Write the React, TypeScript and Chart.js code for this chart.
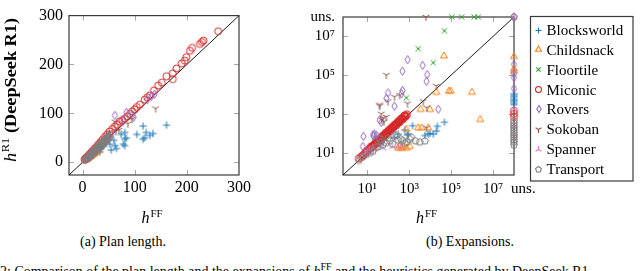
import { useEffect, useRef } from 'react';
import { Chart, registerables } from 'chart.js';
Chart.register(...registerables);

type Pair = [number, number];

const UNS = 1e8; // "unsolved" plotted at the top/right border of the expansions plot

const domains = ['Blocksworld', 'Childsnack', 'Floortile', 'Miconic', 'Rovers', 'Sokoban', 'Spanner', 'Transport'];
const domainColors = ['#1f77b4', '#ff7f0e', '#2ca02c', '#d62728', '#9467bd', '#8c564b', '#e377c2', '#7f7f7f'];
const domainMarks = ['plus', 'triangle', 'x', 'circle', 'diamond', 'ydown', 'yup', 'pentagon'];

const lengthTicks = [0, 100, 200, 300];
const lengthTickLabels = ['0', '100', '200', '300'];
const expansionTicks = [10, 1e3, 1e5, 1e7, UNS];
const expansionTickLabelsX = ['10¹', '10³', '10⁵', '10⁷', '\u00a0\u00a0\u00a0\u00a0\u00a0uns.'];
const expansionTickLabelsY = ['10¹', '10³', '10⁵', '10⁷', 'uns.'];

// ---------- (a) plan length: [h^FF, h^R1] ----------
const blocksworldLength: Pair[] = [[161, 76], [116, 74], [104, 57], [122, 61], [135, 59], [119, 50], [129, 55], [116, 47], [81, 61], [84, 50], [78, 37], [65, 28], [52, 37], [55, 25], [33, 28], [74, 57], [81, 47], [81, 34], [62, 34], [33, 21], [45, 40], [40, 32], [30, 24], [25, 20], [20, 16], [15, 13], [10, 9], [36, 30], [60, 45], [28, 22]];
const childsnackLength: Pair[] = [[6, 5], [8, 6], [10, 8], [12, 9], [14, 11], [16, 13], [18, 14], [20, 16], [22, 17], [25, 20], [28, 22], [30, 24]];
const floortileLength: Pair[] = [[49, 59], [45, 52], [40, 45], [35, 40], [30, 34], [25, 28], [20, 23]];
const miconicLength: Pair[] = [[260, 268], [232, 249], [229, 246], [225, 242], [210, 234], [206, 228], [199, 215], [196, 208], [190, 202], [180, 192], [173, 182], [173, 170], [161, 176], [152, 163], [145, 157], [137, 147], [129, 137], [124, 133], [119, 128], [110, 118], [104, 113], [100, 108], [95, 104], [91, 99], [86, 94], [81, 89], [76, 86], [71, 83], [66, 77], [62, 73], [57, 68], [52, 63], [47, 57], [43, 52], [38, 46], [34, 41], [30, 36], [26, 31], [22, 27], [18, 22], [15, 18], [12, 15], [9, 11], [7, 9], [5, 7], [4, 5]];
const roversLength: Pair[] = [[62, 96], [84, 102], [98, 92], [124, 128], [138, 139], [132, 135], [95, 97], [78, 84], [55, 57], [50, 53], [45, 48], [40, 42], [35, 36], [30, 31], [25, 27], [20, 22], [15, 16], [10, 11]];
const sokobanLength: Pair[] = [[140, 110], [62, 83], [87, 79], [64, 63], [95, 88], [70, 66], [50, 50], [45, 43], [42, 40], [36, 35], [30, 30], [26, 24], [20, 20], [16, 15], [12, 12]];
const spannerLength: Pair[] = [[6, 6], [8, 8], [10, 10], [12, 12], [14, 14], [16, 16], [19, 19], [22, 22], [25, 25], [28, 29], [32, 32]];
const transportLength: Pair[] = [[5, 5], [7, 7], [9, 9], [10, 10], [12, 12], [14, 13], [15, 15], [17, 17], [18, 16], [20, 20], [21, 19], [23, 23], [24, 22], [26, 26], [27, 25], [29, 29], [30, 28], [32, 32], [33, 31], [35, 35], [36, 34], [38, 38], [40, 39], [42, 41], [44, 43], [46, 46], [48, 47], [50, 50], [52, 52], [20, 22], [25, 27], [30, 33], [35, 38], [40, 43], [45, 49], [15, 14], [10, 9], [8, 8], [13, 12], [33, 36], [38, 41], [43, 46], [48, 52]];

// ---------- (b) expansions: [h^FF, h^R1] ----------
const blocksworldExpansions: Pair[] = [[48000, 370], [22000, 230], [20000, 130], [14000, 91], [9800, 98], [8100, 91], [5600, 76], [1450, 245], [890, 91], [620, 150], [830, 81], [40, 28], [60, 45], [200, 60], [300, 90], [UNS, 11000], [UNS, 9000], [UNS, 7600], [UNS, 6000], [UNS, 5000], [UNS, 4400], [UNS, 3500], [UNS, 3000]];
const childsnackExpansions: Pair[] = [[46000, 980000], [20000, 13000], [78000, 15000], [95000, 15000], [980000, 13000], [2450000, 510], [3500, 1700], [9800, 1700], [2700, 190], [3900, 190], [8100, 190], [300, 17], [430, 17], [740, 17], [1070, 21], [740, 160], [500, 20], [350, 22], [UNS, 910000], [UNS, 210000], [UNS, 160000]];
const floortileExpansions: Pair[] = [[107000, UNS], [316000, UNS], [1260000, UNS], [2000000, UNS], [48000, 19500000], [2700, 2300000], [14000, 440000], [740, 6800]];
const miconicExpansions: Pair[] = [[4, 5], [5, 6], [6, 7], [7, 8], [8, 10], [9, 11], [10, 12], [12, 14], [13, 16], [15, 18], [17, 21], [19, 23], [22, 27], [25, 30], [28, 33], [32, 38], [36, 44], [40, 49], [45, 55], [50, 62], [56, 68], [63, 77], [70, 86], [80, 98], [90, 110], [100, 125], [112, 138], [125, 155], [140, 172], [160, 195], [180, 220], [200, 245], [225, 275], [250, 305], [280, 345], [315, 390], [350, 430], [400, 490], [450, 550], [500, 610], [560, 690], [630, 770], [700, 860], [790, 960], [20, 22], [30, 32], [40, 42], [60, 63], [85, 90], [120, 128], [170, 180], [240, 255], [340, 360], [480, 510], [680, 720], [15, 20], [25, 35], [35, 50], [55, 75], [75, 105], [110, 150], [150, 210], [210, 290], [300, 420], [420, 580], [600, 830], [UNS, 1450], [UNS, 1000], [UNS, 700]];
const roversExpansions: Pair[] = [[850, 630000], [4400, 320000], [480, 160000], [7200, 107000], [6800, 48000], [480, 16000], [430, 11000], [98, 12300], [81, 6300], [200, 2500], [24500, 1740], [39, 480], [47, 360], [6.6, 69], [6.2, 21], [19, 85], [22, 91], [20, 71], [28, 79], [UNS, UNS], [UNS, 360000], [UNS, 120000], [UNS, 74000], [UNS, 20000]];
const sokobanExpansions: Pair[] = [[6300, UNS], [81, 100000], [20000, 27500], [4700, 4400], [6800, 2100], [200, 7600], [350, 9100], [830, 3400], [98, 4400], [39, 3000], [39, 2500], [47, 1000], [81, 690], [6800, 190], [50, 500], [63, 400], [56, 630]];
const spannerExpansions: Pair[] = [[300, 21], [56, 17], [19, 17], [8, 9], [10, 11], [13, 14], [160, 20], [400, 18], [UNS, UNS], [UNS, 1740], [UNS, 230], [UNS, 91]];
const transportExpansions: Pair[] = [[5600, 40], [1070, 49], [300, 44], [117, 40], [56, 25], [39, 52], [200, 76], [620, 30], [6, 6], [4, 4], [9, 8], [19, 12], [32, 20], [80, 32], [160, 28], [400, 50], [800, 35], [2000, 40], [1260, 63], [250, 79], [45, 35], [25, 18], [100, 56], [500, 42], [3200, 35], [14, 10], [UNS, UNS], [UNS, 25], [UNS, 35], [UNS, 45], [UNS, 60], [UNS, 80], [UNS, 105], [UNS, 140], [UNS, 190], [UNS, 250], [UNS, 330], [UNS, 440]];

const lengthSeries = [blocksworldLength, childsnackLength, floortileLength, miconicLength, roversLength, sokobanLength, spannerLength, transportLength];
const expansionSeries = [blocksworldExpansions, childsnackExpansions, floortileExpansions, miconicExpansions, roversExpansions, sokobanExpansions, spannerExpansions, transportExpansions];

const LEN_MIN = -26, LEN_MAX = 300;
const EXP_MIN = Math.pow(10, -0.15), EXP_MAX = UNS;

const SERIF = '"Liberation Serif", "Times New Roman", serif';

function makeMarker(shape: string, color: string, r: number, lw: number) {
  const s = Math.ceil(r * 2 + lw + 3);
  const c = document.createElement('canvas');
  c.width = s; c.height = s;
  const g = c.getContext('2d')!;
  g.translate(s / 2, s / 2);
  g.strokeStyle = color;
  g.lineWidth = lw;
  g.beginPath();
  const spoke = (a: number) => { g.moveTo(0, 0); g.lineTo(r * Math.cos(a), r * Math.sin(a)); };
  switch (shape) {
    case 'plus': g.moveTo(-r, 0); g.lineTo(r, 0); g.moveTo(0, -r); g.lineTo(0, r); break;
    case 'x': { const d = r * 0.72; g.moveTo(-d, -d); g.lineTo(d, d); g.moveTo(-d, d); g.lineTo(d, -d); break; }
    case 'triangle': g.moveTo(0, -r); g.lineTo(r * 0.866, r * 0.5); g.lineTo(-r * 0.866, r * 0.5); g.closePath(); break;
    case 'circle': g.arc(0, 0, r, 0, Math.PI * 2); break;
    case 'diamond': g.moveTo(0, -r); g.lineTo(r * 0.62, 0); g.lineTo(0, r); g.lineTo(-r * 0.62, 0); g.closePath(); break;
    case 'ydown': spoke(Math.PI / 2); spoke(Math.PI * 7 / 6); spoke(-Math.PI / 6); break;
    case 'yup': spoke(-Math.PI / 2); spoke(Math.PI * 5 / 6); spoke(Math.PI / 6); break;
    case 'pentagon':
      for (let k = 0; k < 5; k++) {
        const a = -Math.PI / 2 + k * Math.PI * 2 / 5;
        if (k === 0) g.moveTo(r * Math.cos(a), r * Math.sin(a)); else g.lineTo(r * Math.cos(a), r * Math.sin(a));
      }
      g.closePath();
      break;
  }
  g.stroke();
  return c;
}

const markRadius: Record<string, number> = { plus: 3.6, triangle: 4, x: 3.6, circle: 3.5, diamond: 4.2, ydown: 4, yup: 4, pentagon: 3.6 };

type Part = { t: string; font: string; dy: number; gap?: number };
function drawParts(ctx: CanvasRenderingContext2D, parts: Part[], cx: number, baseline: number, targetWidth?: number) {
  const widths = parts.map(p => { ctx.font = p.font; return ctx.measureText(p.t).width + (p.gap || 0); });
  const total = widths.reduce((a, b) => a + b, 0);
  const sx = targetWidth ? targetWidth / total : 1;
  ctx.save();
  ctx.translate(cx, baseline);
  ctx.scale(sx, 1);
  ctx.textBaseline = 'alphabetic';
  ctx.textAlign = 'left';
  ctx.fillStyle = '#000';
  let x = -total / 2;
  parts.forEach((p, i) => { ctx.font = p.font; ctx.fillText(p.t, x, p.dy); x += widths[i]; });
  ctx.restore();
}

const hFF: Part[] = [
  { t: 'h', font: `italic 16px ${SERIF}`, dy: 0, gap: 1 },
  { t: 'FF', font: `11px ${SERIF}`, dy: -6.5 },
];
const hR1: Part[] = [
  { t: 'h', font: `italic 16px ${SERIF}`, dy: 0, gap: 0.5 },
  { t: 'R1', font: `11px ${SERIF}`, dy: -6.5 },
  { t: ' (DeepSeek R1)', font: `bold 16px ${SERIF}`, dy: 0 },
];

const frameTicksPlugin = {
  id: 'frameTicks',
  beforeDatasetsDraw(chart: any) {
    const { ctx, chartArea: a, scales } = chart;
    ctx.save();
    ctx.strokeStyle = '#a8a8a8';
    ctx.lineWidth = 1;
    const len = 5;
    ctx.beginPath();
    scales.x.ticks.forEach((t: any) => {
      const p = Math.round(scales.x.getPixelForValue(t.value)) + 0.5;
      if (p < a.left + 2 || p > a.right - 2) return;
      ctx.moveTo(p, a.bottom); ctx.lineTo(p, a.bottom - len);
      ctx.moveTo(p, a.top); ctx.lineTo(p, a.top + len);
    });
    scales.y.ticks.forEach((t: any) => {
      const p = Math.round(scales.y.getPixelForValue(t.value)) + 0.5;
      if (p < a.top + 2 || p > a.bottom - 2) return;
      ctx.moveTo(a.left, p); ctx.lineTo(a.left + len, p);
      ctx.moveTo(a.right, p); ctx.lineTo(a.right - len, p);
    });
    ctx.stroke();
    ctx.strokeStyle = '#3a3a3a';
    ctx.lineWidth = 1.2;
    ctx.strokeRect(a.left, a.top, a.right - a.left, a.bottom - a.top);
    ctx.restore();
  },
};

function titlesPlugin(withY: boolean) {
  return {
    id: 'axisTitles',
    afterDraw(chart: any) {
      const { ctx, chartArea: a } = chart;
      ctx.save();
      drawParts(ctx, hFF, (a.left + a.right) / 2 - 2, 223);
      if (withY) {
        ctx.translate(15.5, 90);
        ctx.rotate(-Math.PI / 2);
        drawParts(ctx, hR1, 0, 0, 144);
      }
      ctx.restore();
    },
  };
}

function legendPlugin(markers: HTMLCanvasElement[]) {
  return {
    id: 'boxLegend',
    afterDraw(chart: any) {
      const { ctx, chartArea: a } = chart;
      const left = a.right + 16.5;
      const top = a.top - 0.5;
      ctx.save();
      ctx.strokeStyle = '#3a3a3a';
      ctx.lineWidth = 1.2;
      ctx.strokeRect(left, top, 102.5, 164.5);
      ctx.font = `15px ${SERIF}`;
      ctx.fillStyle = '#000';
      ctx.textBaseline = 'alphabetic';
      domains.forEach((name, i) => {
        const cy = a.top + 13 + i * 19.86;
        const m = markers[i];
        ctx.drawImage(m, Math.round(left + 8 - m.width / 2), Math.round(cy - m.height / 2));
        ctx.fillText(name, left + 16, cy + 5);
      });
      ctx.restore();
    },
  };
}

function scatterSets(series: Pair[][], markers: HTMLCanvasElement[]) {
  return series.map((pts, i) => ({
    label: domains[i],
    data: pts.map(([x, y]) => ({ x, y })),
    pointStyle: markers[i],
    pointRadius: 3.5,
    pointHoverRadius: 3.5,
    borderColor: domainColors[i],
    backgroundColor: 'transparent',
    order: series.length - i,
    clip: false,
  }));
}

function diagonal(min: number, max: number) {
  return {
    label: 'diag',
    data: [{ x: min, y: min }, { x: max, y: max }],
    showLine: true,
    borderColor: '#000',
    borderWidth: 0.9,
    pointRadius: 0,
    order: 20,
  };
}

function axis(type: string, min: number, max: number, ticks: number[], labels: string[], fontSize: number, pad: number, fit: (s: any) => void) {
  return {
    type,
    min,
    max,
    afterBuildTicks: (s: any) => { s.ticks = ticks.map(v => ({ value: v })); },
    afterFit: fit,
    grid: { display: false, drawTicks: false },
    border: { display: false },
    ticks: {
      font: { family: SERIF, size: fontSize },
      color: '#000',
      padding: pad,
      autoSkip: false,
      maxRotation: 0,
      minRotation: 0,
      callback: (_v: any, i: number) => labels[i],
    },
  };
}

export default function App() {
  const refA = useRef<HTMLCanvasElement>(null);
  const refB = useRef<HTMLCanvasElement>(null);
  useEffect(() => {
    const markers = domainMarks.map((m, i) => makeMarker(m, domainColors[i], markRadius[m], 1.0));
    const legendMarkers = domainMarks.map((m, i) => makeMarker(m, domainColors[i], markRadius[m] * 0.85, 1.1));
    const common = {
      responsive: false,
      animation: false as const,
      events: [] as any[],
      layout: { autoPadding: false },
      plugins: { legend: { display: false }, tooltip: { enabled: false } },
    };
    const a = new Chart(refA.current!, {
      type: 'scatter',
      data: { datasets: [diagonal(LEN_MIN, LEN_MAX), ...scatterSets(lengthSeries, markers)] as any },
      options: {
        ...common,
        layout: { autoPadding: false, padding: { left: 0, top: 6, right: 61, bottom: 0 } },
        scales: {
          x: axis('linear', LEN_MIN, LEN_MAX, lengthTicks, lengthTickLabels, 16, 3, (s: any) => { s.height = 55; }),
          y: axis('linear', LEN_MIN, LEN_MAX, lengthTicks, lengthTickLabels, 16, 6, (s: any) => { s.width = 69; }),
        },
      } as any,
      plugins: [frameTicksPlugin, titlesPlugin(true)],
    });
    const b = new Chart(refB.current!, {
      type: 'scatter',
      data: { datasets: [diagonal(EXP_MIN, EXP_MAX), ...scatterSets(expansionSeries, markers)] as any },
      options: {
        ...common,
        layout: { autoPadding: false, padding: { left: 0, top: 6, right: 126, bottom: 0 } },
        scales: {
          x: axis('logarithmic', EXP_MIN, EXP_MAX, expansionTicks, expansionTickLabelsX, 15, 5, (s: any) => { s.height = 55; }),
          y: axis('logarithmic', EXP_MIN, EXP_MAX, expansionTicks, expansionTickLabelsY, 15, 8, (s: any) => { s.width = 43; }),
        },
      } as any,
      plugins: [frameTicksPlugin, titlesPlugin(false), legendPlugin(legendMarkers)],
    });
    return () => { a.destroy(); b.destroy(); };
  }, []);

  const caption = { position: 'absolute' as const, top: 234, textAlign: 'center' as const, fontSize: 14, lineHeight: '15px', whiteSpace: 'nowrap' as const };
  return (
    <div style={{ position: 'absolute', left: 0, top: 0, width: 640, height: 271, overflow: 'hidden', background: '#fff', fontFamily: SERIF, color: '#000' }}>
      <canvas ref={refA} width={300} height={230} style={{ position: 'absolute', left: 0, top: 0 }} />
      <canvas ref={refB} width={340} height={230} style={{ position: 'absolute', left: 300, top: 0 }} />
      <div style={{ ...caption, left: 0, width: 246 }}>(a) Plan length.</div>
      <div style={{ ...caption, left: 300, width: 340 }}>(b) Expansions.</div>
      <div style={{ position: 'absolute', left: 0, top: 264, fontSize: 14, lineHeight: '16px', whiteSpace: 'nowrap' }}>
        2: Comparison of the plan length and the expansions of <i>h</i><sup style={{ fontSize: 10, lineHeight: 0 }}>FF</sup> and the heuristics generated by DeepSeek R1.
      </div>
    </div>
  );
}
